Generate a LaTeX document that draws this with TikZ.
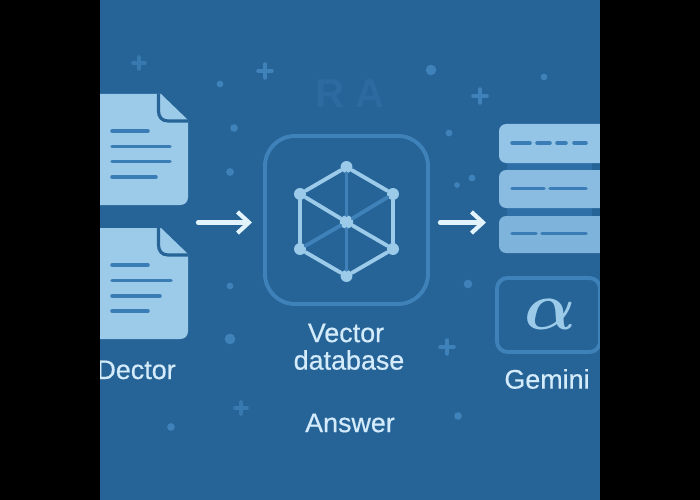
\documentclass[tikz,border=0pt]{standalone}
\usepackage{xcolor}
\usepackage{fontspec}
\setmainfont{Liberation Sans}
\newfontfamily\labelfont[FakeBold=0.5]{Liberation Sans}
\usetikzlibrary{arrows.meta}

\definecolor{bgblue}{HTML}{266397}
\definecolor{midblue}{HTML}{3F82BA}
\definecolor{lineblue}{HTML}{3A7CB6}
\definecolor{faintblue}{HTML}{2D6A9F}
\definecolor{paleblue}{HTML}{9CCBEA}
\definecolor{textblue}{HTML}{D3EBFA}
\definecolor{arrowwhite}{HTML}{E2F3FC}
\definecolor{darkstrip}{HTML}{2F6FA8}

\tikzset{
	docline/.style={draw=lineblue, line width=2pt, line cap=round},
	vertex/.style={circle, fill=paleblue, inner sep=0pt, minimum size=6.8pt},
	edgelight/.style={draw=paleblue, line width=2.2pt},
	edgedark/.style={draw=midblue, line width=2.2pt},
	flowarrow/.style={draw=arrowwhite, line width=2.4pt, line cap=round, line join=round,
		-{Straight Barb[length=6.5pt, width=12pt, line width=2.4pt]}},
	textlabel/.style={text=textblue, font=\fontsize{15.3}{17}\labelfont},
	speck/.style={circle, fill=midblue, inner sep=0pt},
	crossmark/.style={draw=midblue, line width=2pt, line cap=round},
	slot/.style={rounded corners=4pt},
	slotdash/.style={draw=lineblue, line width=2pt, line cap=round},
}

\begin{document}
\begin{tikzpicture}[x=0.02cm, y=-0.02cm, line cap=round, line join=round]
	
	\useasboundingbox (0,0) rectangle (700,500);
	\fill[bgblue] (0,0) rectangle (700,500);
	
	% Faint title
	\node[text=faintblue, font=\fontsize{23}{23}\selectfont\bfseries] (title) at (350,94) {R A};
	
	% Background specks
	\foreach \px/\py/\pr [count=\i] in {220/84/3.5, 234/128/4, 230/172/4, 431/70/5.5, 449/133/3.5, 544/77/3.5,
		472/178/3.5, 457/185/3, 468/284/4.5, 458/416/4, 230/286/3.5, 230/339/5.5, 171/427/4}
		\node[speck, minimum size=\pr*1.1pt] (speck\i) at (\px,\py) {};
	
	% Background crosses
	\foreach \px/\py in {265/71, 480/96, 447/347}
		\draw[crossmark] (\px-7,\py) -- (\px+7,\py) (\px,\py-7) -- (\px,\py+7);
	\foreach \px/\py in {139/63, 241/408}
		\draw[crossmark, midblue!70!bgblue] (\px-6,\py) -- (\px+6,\py) (\px,\py-6) -- (\px,\py+6);
	
	% Documents on the left
	\foreach \ytop in {94,228} {
		\fill[paleblue] (90,\ytop+8) .. controls (90,\ytop+2) and (92,\ytop) .. (98,\ytop)
		-- (161,\ytop) -- (188,\ytop+26) -- (188,\ytop+103)
		.. controls (188,\ytop+108) and (185,\ytop+111) .. (180,\ytop+111)
		-- (90,\ytop+111) -- cycle;
		\draw[bgblue, line width=1.8pt, line cap=butt] (158.5,\ytop) -- (158.5,\ytop+17)
		.. controls (158.5,\ytop+23) and (162,\ytop+27) .. (168,\ytop+27) -- (188,\ytop+27);
	}
	
	% Lines of the upper document
	\draw[docline] (112,131) -- (148,131);
	\draw[docline] (112,146.5) -- (170,146.5);
	\draw[docline] (112,161.5) -- (170,161.5);
	\draw[docline] (112,177) -- (156,177);
	
	% Lines of the lower document
	\draw[docline] (112,265) -- (148,265);
	\draw[docline] (112,280.5) -- (171,280.5);
	\draw[docline] (112,296) -- (160,296);
	\draw[docline] (112,311) -- (148,311);
	
	\node[textlabel, anchor=base east, inner sep=0pt] (dector) at (176,379) {Dector};
	
	% Arrows
	\coordinate (leftstart) at (198,222.5);
	\coordinate (leftend) at (252,222.5);
	\coordinate (rightstart) at (440,222.5);
	\coordinate (rightend) at (486,222.5);
	\draw[flowarrow] (leftstart) -- (leftend);
	\draw[flowarrow] (rightstart) -- (rightend);
	
	% Vector database frame
	\draw[midblue, line width=2.2pt, rounded corners=17pt] (265,136) rectangle (428,304);
	
	% Graph in the frame
	\node[vertex] (top) at (346.5,167) {};
	\node[vertex] (upleft) at (300,194) {};
	\node[vertex] (upright) at (393,194) {};
	\node[vertex, minimum size=7.6pt] (centre) at (346.5,222) {};
	\node[vertex] (lowleft) at (300,249) {};
	\node[vertex] (lowright) at (393,249) {};
	\node[vertex] (bottom) at (346.5,276) {};
	\foreach \from/\to in {top/centre, centre/bottom, centre/upright, centre/lowleft}
		\draw[edgedark] (\from) -- (\to);
	\foreach \from/\to in {top/upleft, top/upright, upleft/lowleft, upright/lowright,
		lowleft/bottom, lowright/bottom, upleft/centre, centre/lowright}
		\draw[edgelight] (\from) -- (\to);
	
	\node[textlabel] (vector) at (346,333) {Vector};
	\node[textlabel] (database) at (349,360) {database};
	\node[textlabel] (answer) at (350,423) {Answer};
	
	% Stack on the right
	\fill[darkstrip] (507,160) rectangle (592,220);
	\fill[slot, fill=paleblue!92!midblue] (499,124) rectangle (610,163);
	\fill[slot, fill=paleblue!80!midblue] (499,170) rectangle (610,208);
	\fill[slot, fill=paleblue!68!midblue] (499,216) rectangle (610,253);
	
	\draw[slotdash] (512,143) -- (530,143);
	\draw[slotdash] (537,143) -- (550,143);
	\draw[slotdash] (557,143) -- (566,143);
	\draw[slotdash] (574,143) -- (586,143);
	\draw[slotdash] (512,188.5) -- (544,188.5);
	\draw[slotdash] (550,188.5) -- (586,188.5);
	\draw[slotdash] (512,233.5) -- (536,233.5);
	\draw[slotdash] (542,233.5) -- (586,233.5);
	
	% Gemini box
	\draw[midblue, line width=2.2pt, rounded corners=6pt] (497,278) rectangle (600,352);
	\node[text=paleblue, scale=1.55, font=\fontsize{44}{44}\selectfont\boldmath] (alpha) at (550,314) {$\alpha$};
	\node[textlabel] (gemini) at (547,379) {Gemini};
	
	% Black side bars
	\fill[black] (0,0) rectangle (100,500);
	\fill[black] (600,0) rectangle (700,500);
	
\end{tikzpicture}
\end{document}
